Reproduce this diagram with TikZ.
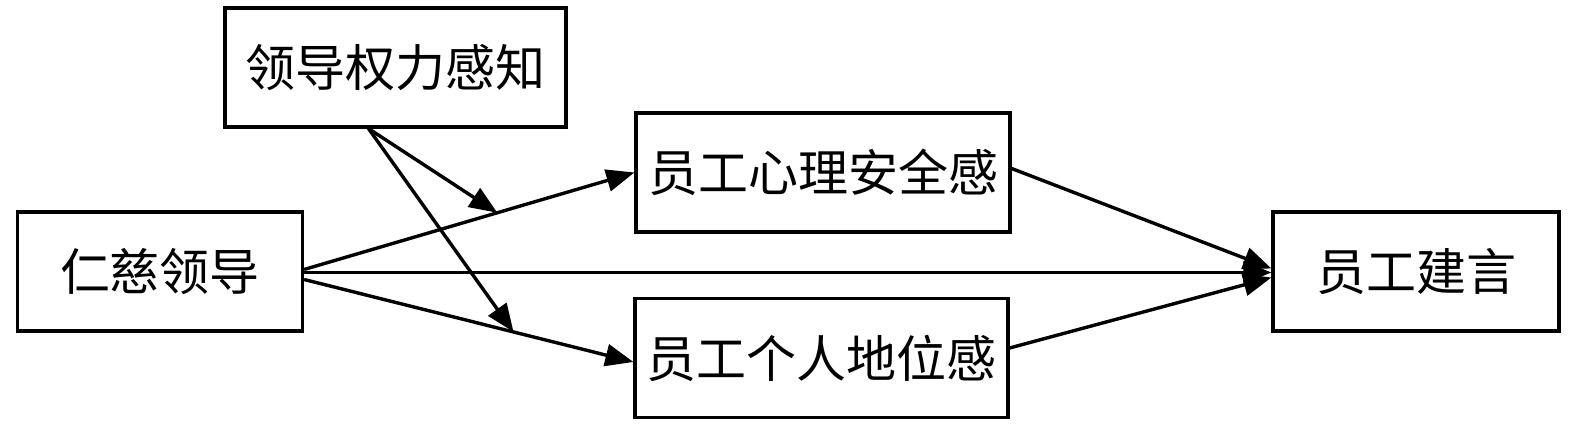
\documentclass[tikz,border=0pt]{standalone}
\usepackage{fontspec}
\setmainfont{Noto Sans CJK SC}
\usetikzlibrary{arrows.meta,positioning}
\tikzset{
  varbox/.style={draw, line width=1.6pt, minimum height=59.5pt, inner sep=0pt,
    font=\fontsize{25}{30}\selectfont},
  patharrow/.style={line width=1.7pt, -{Triangle[length=14pt,width=11pt]}}
}

\begin{document}
\begin{tikzpicture}[x=0.5pt,y=-0.5pt]
\useasboundingbox (0,0) rectangle (1575,426);
% variables
\node[varbox, minimum width=142.5pt] (rc) at (160,271.5) {仁慈领导};
\node[varbox, minimum width=170.5pt] (ql) at (395.5,67.5) {领导权力感知};
\node[varbox, minimum width=187pt] (aq) at (823,172.5) {员工心理安全感};
\node[varbox, minimum width=186.5pt] (dw) at (821.5,358) {员工个人地位感};
\node[varbox, minimum width=143pt] (jy) at (1416,271.5) {员工建言};
% main paths
\draw[patharrow] ([yshift=1pt]rc.east) -- coordinate[pos=0.585] (m1) (aq.west);
\draw[patharrow] ([yshift=-4pt]rc.east) -- coordinate[pos=0.636] (m2) ([yshift=-2pt]dw.west);
\draw[patharrow] ([yshift=-0.5pt]rc.east) -- ([yshift=-0.5pt]jy.west);
\draw[patharrow] ([yshift=2pt]aq.east) -- ([yshift=1.5pt]jy.west);
\draw[patharrow] ([yshift=5pt]dw.east) -- ([yshift=-3pt]jy.west);
% moderation
\coordinate (qs) at ([xshift=-13.5pt]ql.south);
\draw[patharrow] (qs) -- (m1);
\draw[patharrow] (qs) -- (m2);
\end{tikzpicture}
\end{document}
